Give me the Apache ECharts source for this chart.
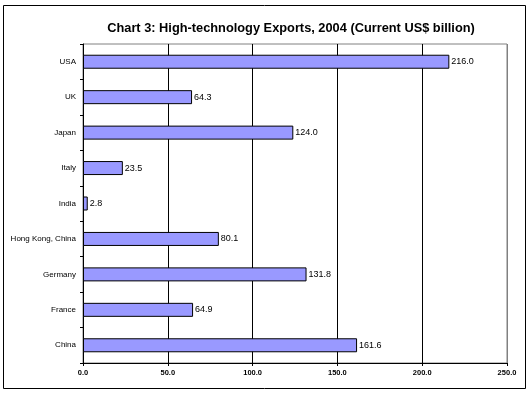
<!DOCTYPE html>
<html>
<head>
<meta charset="utf-8">
<script src="https://cdn.jsdelivr.net/npm/echarts@6/dist/echarts.min.js"></script>
<style>html,body{margin:0;padding:0;background:#fff;}#c{width:528px;height:394px;}</style>
</head>
<body>
<div id="c"></div>
<script>
var titleText = 'Chart 3: High-technology Exports, 2004 (Current US$ billion)';
var categories = ['USA', 'UK', 'Japan', 'Italy', 'India', 'Hong Kong, China', 'Germany', 'France', 'China'];
var values = [216.0, 64.3, 124.0, 23.5, 2.8, 80.1, 131.8, 64.9, 161.6];
var xMin = 0, xMax = 250, xStep = 50;

var chart = echarts.init(document.getElementById('c'), null, {renderer: 'canvas'});
chart.setOption({
  animation: false,
  backgroundColor: '#ffffff',
  textStyle: {fontFamily: 'Arial, "Liberation Sans", sans-serif'},
  title: {
    text: titleText,
    left: 286, textAlign: 'center', top: 17,
    textStyle: {fontSize: 12.8, fontWeight: 'bold', color: '#000', fontFamily: 'Arial, "Liberation Sans", sans-serif'}
  },
  graphic: [{
    type: 'rect', shape: {x: 3.5, y: 5.5, width: 522, height: 383},
    style: {fill: 'none', stroke: '#000', lineWidth: 1}, z: 100
  }],
  grid: {left: 83, right: 21, top: 44, bottom: 31, show: true, borderColor: '#808080', borderWidth: 1, backgroundColor: '#fff'},
  xAxis: {
    type: 'value', min: xMin, max: xMax, interval: xStep,
    axisLine: {show: true, lineStyle: {color: '#000', width: 1}},
    axisTick: {show: true, inside: false, length: 3, lineStyle: {color: '#000'}},
    axisLabel: {formatter: function (v) { return v.toFixed(1); }, fontSize: 7.5, fontWeight: 'bold', color: '#000', margin: 6, fontFamily: 'Arial, "Liberation Sans", sans-serif'},
    splitLine: {show: true, lineStyle: {color: ['#000', '#000', '#000', '#000', '#000', '#808080'], width: 1}}
  },
  yAxis: {
    type: 'category', data: categories, inverse: true,
    axisLine: {show: true, lineStyle: {color: '#000', width: 1}},
    axisTick: {show: true, length: 3, lineStyle: {color: '#000'}},
    axisLabel: {fontSize: 8, color: '#000', margin: 7, fontFamily: 'Arial, "Liberation Sans", sans-serif'}
  },
  series: [{
    type: 'bar', data: values, barWidth: 14,
    itemStyle: {color: '#9999FF', borderColor: '#000', borderWidth: 1},
    label: {show: true, position: 'right', distance: 2, color: '#000', fontSize: 9,
      fontFamily: 'Arial, "Liberation Sans", sans-serif',
      formatter: function (p) { return p.value.toFixed(1); }}
  }]
});
</script>
</body>
</html>
